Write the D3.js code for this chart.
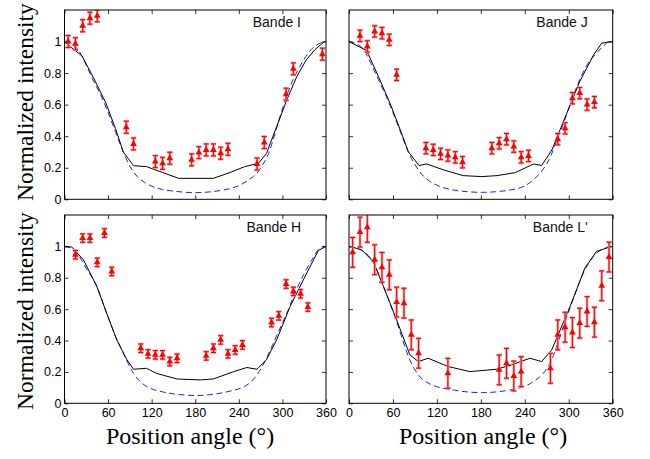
<!DOCTYPE html>
<html>
<head>
<meta charset="utf-8">
<script src="https://cdn.jsdelivr.net/npm/d3@7"></script>
<style>
  body { margin: 0; background: #fff; }
  svg { display: block; }
</style>
</head>
<body>
<div id="chart"></div>
<script>
// ---- data ----
const xTicks = [0, 60, 120, 180, 240, 300, 360];
const yTicks = [0, 0.2, 0.4, 0.6, 0.8, 1];
const bandNames = ["Bande I", "Bande J", "Bande H", "Bande L'"];

// measured points (position angle, normalized intensity)
const obsAngI = [5, 15, 25, 35, 45, 85, 95, 125, 135, 145, 175, 185, 195, 205, 215, 225, 265, 275, 305, 315, 355];
const obsValI = [1.0, 0.986, 1.10, 1.148, 1.163, 0.457, 0.351, 0.239, 0.228, 0.26, 0.25, 0.296, 0.313, 0.313, 0.292, 0.317, 0.224, 0.36, 0.666, 0.827, 0.92];
const obsErrI = 0.038;

const obsAngJ = [15, 25, 35, 45, 55, 65, 105, 115, 125, 135, 145, 155, 195, 205, 215, 225, 235, 245, 285, 295, 305, 315, 325, 335];
const obsValJ = [1.036, 0.969, 1.064, 1.053, 1.011, 0.789, 0.324, 0.313, 0.288, 0.277, 0.266, 0.235, 0.324, 0.355, 0.381, 0.334, 0.266, 0.275, 0.381, 0.45, 0.641, 0.673, 0.6, 0.616];
const obsErrJ = 0.036;

const obsAngH = [15, 25, 35, 45, 55, 65, 105, 115, 125, 135, 145, 155, 195, 205, 215, 225, 235, 245, 285, 295, 305, 315, 325, 335];
const obsValH = [0.947, 1.053, 1.053, 0.898, 1.085, 0.84, 0.351, 0.315, 0.309, 0.309, 0.266, 0.287, 0.302, 0.351, 0.404, 0.315, 0.34, 0.372, 0.515, 0.557, 0.76, 0.713, 0.698, 0.613];
const obsErrH = 0.027;

const obsAngL = [5, 15, 25, 35, 45, 55, 65, 75, 85, 95, 135, 205, 215, 225, 235, 275, 285, 295, 305, 315, 325, 335, 345, 355];
const obsValL = [0.962, 1.091, 1.121, 0.915, 0.866, 0.819, 0.645, 0.638, 0.436, 0.319, 0.191, 0.213, 0.255, 0.174, 0.202, 0.223, 0.436, 0.485, 0.451, 0.511, 0.585, 0.517, 0.749, 0.932];
const obsErrL = 0.095;

// model 1 (black solid)
const solidAngI = [0, 10, 24, 40, 57, 70, 81, 95, 113, 135, 157, 205, 228, 248, 267, 278, 292, 306, 320, 333, 345, 358, 360];
const solidValI = [1, 0.96, 0.91, 0.77, 0.61, 0.45, 0.30, 0.213, 0.207, 0.17, 0.133, 0.133, 0.17, 0.207, 0.228, 0.29, 0.46, 0.63, 0.78, 0.885, 0.95, 1.0, 1.0];
const solidAngJ = [0, 24, 40, 56, 70, 81, 95.6, 106, 130, 156, 181, 202, 227, 252, 263, 277, 296, 315, 334, 345, 359, 360];
const solidValJ = [1, 0.943, 0.78, 0.609, 0.44, 0.302, 0.214, 0.224, 0.185, 0.15, 0.144, 0.15, 0.169, 0.224, 0.214, 0.313, 0.53, 0.747, 0.916, 0.99, 1.0, 1.0];
const solidAngH = [0, 10, 26, 44.5, 58, 72, 86, 95, 113, 127, 155, 187, 205, 233, 251, 265, 278, 292, 310.6, 333.5, 349.5, 360];
const solidValH = [1, 0.996, 0.915, 0.745, 0.574, 0.404, 0.277, 0.217, 0.223, 0.19, 0.155, 0.149, 0.155, 0.202, 0.228, 0.217, 0.277, 0.404, 0.617, 0.83, 0.974, 1.0];
const solidAngL = [0, 17, 33, 47, 65, 83, 94.7, 108, 135.6, 165, 201.6, 222, 247, 263, 276.7, 301.8, 322, 338, 358.7, 360];
const solidValL = [1, 0.979, 0.904, 0.745, 0.532, 0.309, 0.266, 0.287, 0.234, 0.202, 0.217, 0.245, 0.287, 0.266, 0.34, 0.617, 0.862, 0.968, 1.0, 1.0];

// model 2 (blue dashed)
const dashAngI = [0, 10, 20, 30, 40, 50, 60, 70, 80, 90, 100, 110, 120, 135, 150, 165, 180, 195, 214, 228, 242, 252, 260, 265, 270, 281, 290, 301, 312, 324, 336, 346, 352, 360];
const dashValI = [1, 0.985, 0.94, 0.85, 0.75, 0.66, 0.55, 0.43, 0.31, 0.21, 0.145, 0.108, 0.083, 0.062, 0.052, 0.045, 0.042, 0.045, 0.055, 0.068, 0.091, 0.118, 0.145, 0.165, 0.2, 0.29, 0.42, 0.588, 0.73, 0.842, 0.93, 0.975, 0.99, 1.0];
const dashAngJ = [0, 10, 20, 30, 40, 50, 60, 70, 80, 90, 100, 110, 125, 142, 160, 181, 200, 220, 240, 254, 265, 275, 285, 293, 304, 315, 326, 338, 348, 356, 360];
const dashValJ = [1, 0.985, 0.95, 0.86, 0.76, 0.66, 0.55, 0.43, 0.31, 0.22, 0.155, 0.115, 0.08, 0.059, 0.049, 0.044, 0.048, 0.059, 0.085, 0.133, 0.19, 0.27, 0.39, 0.482, 0.63, 0.757, 0.86, 0.926, 0.975, 1.0, 1.0];
const dashAngH = [0, 10, 17, 30, 44.5, 58, 70, 81, 95, 105, 118, 135, 150, 165, 182, 200, 214, 230, 242, 255, 265, 278, 292, 306, 318, 329, 340, 349.5, 356, 360];
const dashValH = [1, 0.985, 0.957, 0.86, 0.745, 0.574, 0.43, 0.319, 0.191, 0.135, 0.096, 0.073, 0.06, 0.053, 0.049, 0.055, 0.064, 0.08, 0.096, 0.13, 0.181, 0.287, 0.43, 0.574, 0.71, 0.819, 0.91, 0.979, 1.0, 1.0];
const dashAngL = [0, 17, 33, 47, 65, 83, 94.7, 110.6, 142.5, 181, 220, 251.7, 265, 274.5, 292.7, 305, 320, 338, 350, 356, 360];
const dashValL = [1, 0.975, 0.9, 0.745, 0.52, 0.277, 0.181, 0.123, 0.085, 0.068, 0.085, 0.138, 0.19, 0.255, 0.489, 0.65, 0.83, 0.957, 0.99, 1.0, 1.0];

const zip = (a, b) => a.map((d, i) => [d, b[i]]);
const panels = [
  { name: bandNames[0], obs: zip(obsAngI, obsValI), err: obsErrI, solid: zip(solidAngI, solidValI), dash: zip(dashAngI, dashValI), col: 0, row: 0 },
  { name: bandNames[1], obs: zip(obsAngJ, obsValJ), err: obsErrJ, solid: zip(solidAngJ, solidValJ), dash: zip(dashAngJ, dashValJ), col: 1, row: 0 },
  { name: bandNames[2], obs: zip(obsAngH, obsValH), err: obsErrH, solid: zip(solidAngH, solidValH), dash: zip(dashAngH, dashValH), col: 0, row: 1 },
  { name: bandNames[3], obs: zip(obsAngL, obsValL), err: obsErrL, solid: zip(solidAngL, solidValL), dash: zip(dashAngL, dashValL), col: 1, row: 1 }
];

// ---- layout ----
const W = 650, H = 459;
const colX = [[64.5, 326], [349, 612.7]];
const rowY = [[10, 199.3], [215, 403.3]];
const sansFont = "'Liberation Sans', Arial, Helvetica, sans-serif";
const serifFont = "'Liberation Serif', 'Times New Roman', serif";

const svg = d3.select("#chart").append("svg")
    .attr("width", W)
    .attr("height", H);

panels.forEach((p, i) => {
  const [x0, x1] = colX[p.col];
  const [y0, y1] = rowY[p.row];
  const x = d3.scaleLinear().domain([0, 360]).range([x0, x1]);
  const y = d3.scaleLinear().domain([0, 1.2]).range([y1, y0]);

  const g = svg.append("g");

  g.append("clipPath").attr("id", "clip" + i)
    .append("rect")
      .attr("x", x0).attr("y", y0)
      .attr("width", x1 - x0).attr("height", y1 - y0);

  // ticks on all four sides, pointing inward
  const bottom = d3.axisBottom(x).tickValues(xTicks).tickSize(-4).tickPadding(5);
  if (p.row === 0) bottom.tickFormat("");
  g.append("g").attr("transform", `translate(0,${y1})`).call(bottom);
  g.append("g").attr("transform", `translate(0,${y0})`)
    .call(d3.axisTop(x).tickValues(xTicks).tickSize(-4).tickFormat(""));

  const left = d3.axisLeft(y).tickValues(yTicks).tickSize(-4).tickPadding(3).tickFormat(d3.format("~g"));
  if (p.col === 1) left.tickFormat("");
  g.append("g").attr("transform", `translate(${x0},0)`).call(left);
  g.append("g").attr("transform", `translate(${x1},0)`)
    .call(d3.axisRight(y).tickValues(yTicks).tickSize(-4).tickFormat(""));

  g.selectAll(".domain").remove();
  g.selectAll(".tick line").attr("stroke", "#000").attr("stroke-width", 0.8);
  g.selectAll(".tick text")
    .attr("fill", "#000")
    .style("font-family", sansFont)
    .style("font-size", "12.5px");

  const plot = g.append("g").attr("clip-path", `url(#clip${i})`);

  // blue dashed model
  plot.append("path")
    .datum(p.dash)
    .attr("fill", "none")
    .attr("stroke", "#1f1fff")
    .attr("stroke-width", 1)
    .attr("stroke-dasharray", "6,3.5")
    .attr("d", d3.line().x(d => x(d[0])).y(d => y(d[1])).curve(d3.curveMonotoneX));

  // black solid model
  plot.append("path")
    .datum(p.solid)
    .attr("fill", "none")
    .attr("stroke", "#000")
    .attr("stroke-width", 1)
    .attr("d", d3.line().x(d => x(d[0])).y(d => y(d[1])));

  // error bars
  const eb = plot.selectAll(".eb")
    .data(p.obs)
    .join("g")
      .attr("class", "eb");
  const cap = 2.6;
  [["#ff8c8c", 2.4], ["#ee0000", 1]].forEach(([c, w]) => {
    eb.append("line")
      .attr("x1", d => x(d[0])).attr("x2", d => x(d[0]))
      .attr("y1", d => y(d[1] - p.err)).attr("y2", d => y(d[1] + p.err))
      .attr("stroke", c).attr("stroke-width", w);
    eb.append("line")
      .attr("x1", d => x(d[0]) - cap).attr("x2", d => x(d[0]) + cap)
      .attr("y1", d => y(d[1] + p.err)).attr("y2", d => y(d[1] + p.err))
      .attr("stroke", c).attr("stroke-width", w);
    eb.append("line")
      .attr("x1", d => x(d[0]) - cap).attr("x2", d => x(d[0]) + cap)
      .attr("y1", d => y(d[1] - p.err)).attr("y2", d => y(d[1] - p.err))
      .attr("stroke", c).attr("stroke-width", w);
  });

  // triangle markers
  plot.selectAll(".pt")
    .data(p.obs)
    .join("path")
      .attr("class", "pt")
      .attr("transform", d => `translate(${x(d[0])},${y(d[1])})`)
      .attr("d", d3.symbol(d3.symbolTriangle, 20))
      .attr("fill", "#ff0000");

  // frame
  g.append("rect")
    .attr("x", x0).attr("y", y0)
    .attr("width", x1 - x0).attr("height", y1 - y0)
    .attr("fill", "none")
    .attr("stroke", "#000")
    .attr("stroke-width", 1);

  // band label
  g.append("text")
    .attr("x", x1 - 25)
    .attr("y", y0 + 17)
    .attr("text-anchor", "end")
    .style("font-family", sansFont)
    .style("font-size", "14px")
    .attr("fill", "#111")
    .text(p.name);
});

// axis titles
[102, 311].forEach(cy => {
  svg.append("text")
    .attr("transform", `translate(33,${cy}) rotate(-90)`)
    .attr("text-anchor", "middle")
    .style("font-family", serifFont)
    .style("font-size", "23.5px")
    .attr("fill", "#000")
    .text("Normalized intensity");
});
[190, 483].forEach(cx => {
  svg.append("text")
    .attr("x", cx)
    .attr("y", 444)
    .attr("text-anchor", "middle")
    .style("font-family", serifFont)
    .style("font-size", "24px")
    .attr("fill", "#000")
    .text("Position angle (°)");
});
</script>
</body>
</html>
